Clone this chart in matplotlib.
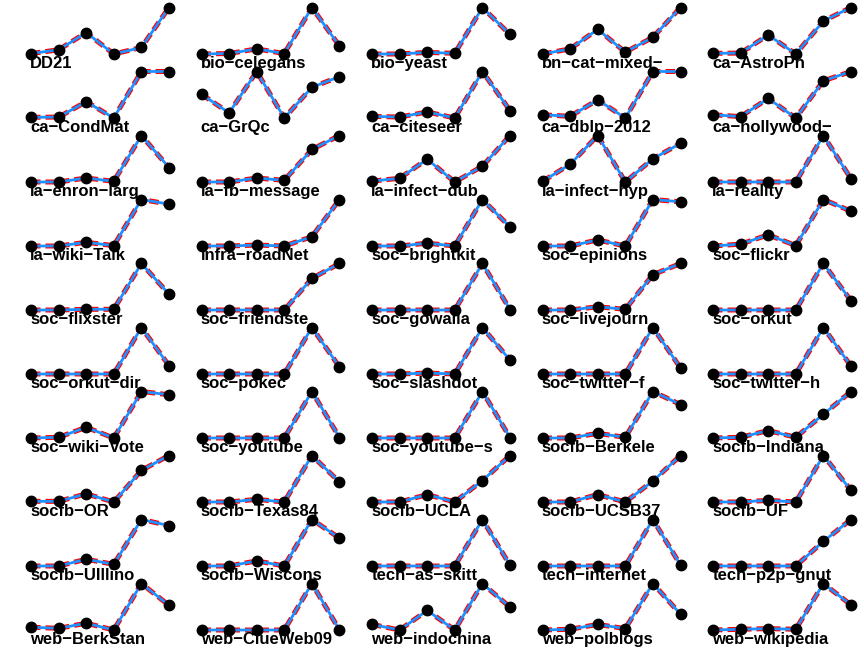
import matplotlib.pyplot as plt

# panel names (already cut to 13 characters, as in the original)
names = ['DD21', 'bio-celegans', 'bio-yeast', 'bn-cat-mixed-', 'ca-AstroPh',
         'ca-CondMat', 'ca-GrQc', 'ca-citeseer', 'ca-dblp-2012', 'ca-hollywood-',
         'ia-enron-larg', 'ia-fb-message', 'ia-infect-dub', 'ia-infect-hyp', 'ia-reality',
         'ia-wiki-Talk', 'infra-roadNet', 'soc-brightkit', 'soc-epinions', 'soc-flickr',
         'soc-flixster', 'soc-friendste', 'soc-gowalla', 'soc-livejourn', 'soc-orkut',
         'soc-orkut-dir', 'soc-pokec', 'soc-slashdot', 'soc-twitter-f', 'soc-twitter-h',
         'soc-wiki-Vote', 'soc-youtube', 'soc-youtube-s', 'socfb-Berkele', 'socfb-Indiana',
         'socfb-OR', 'socfb-Texas84', 'socfb-UCLA', 'socfb-UCSB37', 'socfb-UF',
         'socfb-UIllino', 'socfb-Wiscons', 'tech-as-skitt', 'tech-internet', 'tech-p2p-gnut',
         'web-BerkStan', 'web-ClueWeb09', 'web-indochina', 'web-polblogs', 'web-wikipedia']

steps = [1, 2, 3, 4, 5, 6]

# scaled values per panel (0 = panel min, 1 = panel max)
row1 = [[0.01, 0.09, 0.46, 0.0, 0.14, 1.0],
        [0.0, 0.01, 0.11, 0.01, 1.0, 0.17],
        [0.0, 0.0, 0.035, 0.014, 1.0, 0.42],
        [0.0, 0.11, 0.53, 0.04, 0.36, 1.0],
        [0.014, 0.02, 0.41, 0.0, 0.71, 1.0]]
row2 = [[0.014, 0.02, 0.35, 0.0, 1.0, 1.0],
        [0.51, 0.11, 1.0, 0.0, 0.66, 0.89],
        [0.036, 0.02, 0.13, 0.0, 1.0, 0.16],
        [0.07, 0.036, 0.39, 0.0, 1.0, 1.0],
        [0.07, 0.03, 0.42, 0.0, 0.8, 1.0]]
row3 = [[0.0, 0.0, 0.086, 0.014, 1.0, 0.31],
        [0.0, 0.0, 0.086, 0.036, 0.7, 1.0],
        [0.02, 0.08, 0.49, 0.0, 0.34, 1.0],
        [0.014, 0.38, 1.0, 0.0, 0.5, 0.83],
        [0.0, 0.0, 0.0, 0.0, 1.0, 0.07]]
row4 = [[0.0, 0.0, 0.08, 0.007, 1.0, 0.9],
        [0.0, 0.0, 0.02, 0.0, 0.2, 1.0],
        [0.0, 0.0, 0.06, 0.0, 1.0, 0.41],
        [0.0, 0.0, 0.13, 0.0, 1.0, 0.95],
        [0.0, 0.04, 0.24, 0.01, 1.0, 0.75]]
row5 = [[0.0, 0.0, 0.015, 0.015, 1.0, 0.34],
        [0.0, 0.0, 0.0, 0.0, 0.68, 1.0],
        [0.0, 0.0, 0.0, 0.0, 1.0, 0.01],
        [0.0, 0.0, 0.07, 0.015, 0.76, 1.0],
        [0.0, 0.0, 0.0, 0.0, 1.0, 0.2]]
row6 = [[0.0, 0.0, 0.0, 0.0, 1.0, 0.18],
        [0.0, 0.0, 0.0, 0.0, 1.0, 0.15],
        [0.0, 0.0, 0.02, 0.0, 1.0, 0.3],
        [0.0, 0.0, 0.0, 0.0, 1.0, 0.13],
        [0.0, 0.0, 0.0, 0.0, 1.0, 0.17]]
row7 = [[0.0, 0.015, 0.23, 0.0, 1.0, 0.93],
        [0.0, 0.0, 0.0, 0.0, 1.0, 0.01],
        [0.0, 0.0, 0.0, 0.0, 1.0, 0.01],
        [0.0, 0.0, 0.1, 0.015, 1.0, 0.72],
        [0.0, 0.015, 0.16, 0.015, 0.51, 1.0]]
row8 = [[0.014, 0.014, 0.175, 0.0, 0.68, 1.0],
        [0.0, 0.0, 0.057, 0.0, 1.0, 0.43],
        [0.0, 0.0, 0.16, 0.0, 0.46, 1.0],
        [0.0, 0.0, 0.16, 0.0, 0.45, 1.0],
        [0.0, 0.0, 0.035, 0.0, 1.0, 0.25]]
row9 = [[0.0, 0.0, 0.145, 0.036, 1.0, 0.87],
        [0.0, 0.0, 0.11, 0.0, 1.0, 0.6],
        [0.0, 0.0, 0.0, 0.0, 1.0, 0.015],
        [0.0, 0.0, 0.0, 0.0, 1.0, 0.02],
        [0.0, 0.0, 0.0, 0.0, 0.53, 1.0]]
row10 = [[0.06, 0.036, 0.146, 0.0, 1.0, 0.53],
         [0.0, 0.0, 0.0, 0.0, 1.0, 0.0],
         [0.12, 0.0, 0.42, 0.0, 1.0, 0.49],
         [0.0, 0.015, 0.12, 0.03, 1.0, 0.34],
         [0.0, 0.015, 0.03, 0.015, 1.0, 0.54]]

values = row1 + row2 + row3 + row4 + row5 + row6 + row7 + row8 + row9 + row10

W, H = 864, 649
fig = plt.figure(figsize=(W / 100, H / 100), dpi=100)

for i in range(len(names)):
    r, c = divmod(i, 5)
    left = 31 + 170.5 * c
    top = 7.5 + 64.0 * r
    ax = fig.add_axes([left / W, 1 - (top + 46.5) / H, 138 / W, 46.5 / H])
    ax.plot(steps, values[i], color='red', lw=3.6, linestyle=(0, (1.9, 1.0)),
            clip_on=False, zorder=2)
    ax.plot(steps, values[i], color='#1E90FF', lw=2.0, clip_on=False, zorder=3)
    ax.plot(steps, values[i], 'o', color='black', ms=7.5, clip_on=False, zorder=4)
    ax.set_xlim(1, 6)
    ax.set_ylim(0, 1)
    ax.axis('off')
    ax.annotate(names[i].replace('-', '\u2212'), xy=(0, 0), xycoords='axes fraction',
                xytext=(-0.5, -10.2), textcoords='offset points',
                ha='left', va='baseline', fontsize=12, fontweight='bold',
                family='Liberation Sans', zorder=5)

plt.savefig('out.png', dpi=100)
